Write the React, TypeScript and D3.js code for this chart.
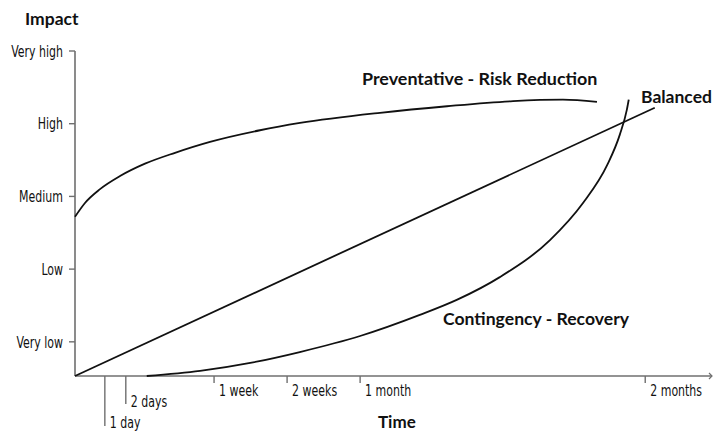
import * as d3 from 'd3';

// Impact levels on the vertical axis
const impactLabels = ['Very low', 'Low', 'Medium', 'High', 'Very high'];
const impactValues = [1, 2, 3, 4, 5];

// Time ticks (relative time units, 0..100)
const timeLabels = ['1 day', '2 days', '1 week', '2 weeks', '1 month', '2 months'];
const timeValues = [4.7, 8.0, 21.9, 33.4, 44.9, 89.8];

// Preventative - Risk Reduction curve
const preventativeTime = [0, 1.57, 3.94, 7.09, 11.02, 15.75, 21.26, 29.13, 35.43, 48.03, 58.58, 68.98, 76.85, 82.2];
const preventativeImpact = [2.72, 2.91, 3.1, 3.28, 3.45, 3.6, 3.75, 3.91, 4.01, 4.15, 4.24, 4.31, 4.33, 4.3];

// Balanced line
const balancedTime = [0, 91.3];
const balancedImpact = [0.53, 4.22];

// Contingency - Recovery curve
const contingencyTime = [11.3, 19.7, 27.6, 35.4, 44.9, 54.3, 60.2, 66.9, 74.8, 80.0, 83.8, 85.8, 86.9, 87.2];
const contingencyImpact = [0.53, 0.6, 0.71, 0.86, 1.08, 1.37, 1.58, 1.89, 2.4, 2.91, 3.43, 3.85, 4.19, 4.33];

const W = 713;
const H = 432;
const axisColor = '#6f6f6f';
const labelFont = "'DejaVu Sans Condensed', 'DejaVu Sans', sans-serif";
const boldFont = "Lato, 'Noto Sans', sans-serif";

// narrow label: the reference uses a very condensed face, so squeeze horizontally
function NarrowText({ x, y, anchor = 'start', dy, children }: any) {
  return (
    <g transform={`translate(${x},${y}) scale(0.74,1)`}>
      <text dy={dy} textAnchor={anchor} fontFamily={labelFont} fontSize={16.5} fill="#111">
        {children}
      </text>
    </g>
  );
}

export default function App() {
  const x = d3.scaleLinear().domain([0, 100]).range([75, 710]);
  const y = d3.scaleLinear().domain([0.53, 5]).range([376, 51]);
  const y0 = y(0.53);

  const smooth = d3
    .line<[number, number]>()
    .x((d) => x(d[0]))
    .y((d) => y(d[1]))
    .curve(d3.curveMonotoneX);
  const straight = d3
    .line<[number, number]>()
    .x((d) => x(d[0]))
    .y((d) => y(d[1]));

  const zip = (a: number[], b: number[]) => a.map((v, i) => [v, b[i]] as [number, number]);

  // first two time ticks are staggered down so labels don't collide
  const tickDrop = [50, 28, 7, 7, 7, 7];
  const labelBase = [52, 31, 20, 20, 20, 20];

  return (
    <svg width={W} height={H} style={{ position: 'absolute', left: 0, top: 0, background: '#fff' }}>
      {/* y axis */}
      <line x1={x(0)} x2={x(0)} y1={y(5)} y2={y0} stroke={axisColor} strokeWidth={1.6} />
      {impactValues.map((v, i) => (
        <g key={v} transform={`translate(${x(0)},${y(v)})`}>
          <line x1={-6} x2={0} stroke={axisColor} strokeWidth={1.4} />
          <NarrowText x={-12} y={0} dy="0.35em" anchor="end">
            {impactLabels[i]}
          </NarrowText>
        </g>
      ))}
      <text x={25} y={25} fontFamily={boldFont} fontWeight={700} fontSize={17.5} fill="#111">
        Impact
      </text>

      {/* x axis */}
      <line x1={x(0)} x2={712} y1={y0} y2={y0} stroke={axisColor} strokeWidth={1.6} />
      <path d={`M${709},${y0 - 3}L${712},${y0}L${709},${y0 + 3}`} fill="none" stroke={axisColor} strokeWidth={1.2} />
      {timeValues.map((v, i) => (
        <g key={v} transform={`translate(${x(v)},${y0})`}>
          <line y1={0} y2={tickDrop[i]} stroke={axisColor} strokeWidth={1.4} />
          <NarrowText x={5} y={labelBase[i]}>
            {timeLabels[i]}
          </NarrowText>
        </g>
      ))}
      <text x={378} y={428} fontFamily={boldFont} fontWeight={700} fontSize={17} fill="#111">
        Time
      </text>

      {/* curves */}
      <path d={smooth(zip(preventativeTime, preventativeImpact)) || ''} fill="none" stroke="#111" strokeWidth={1.8} />
      <path d={straight(zip(balancedTime, balancedImpact)) || ''} fill="none" stroke="#111" strokeWidth={1.8} />
      <path d={smooth(zip(contingencyTime, contingencyImpact)) || ''} fill="none" stroke="#111" strokeWidth={1.8} />

      {/* series labels */}
      <text x={362} y={85} fontFamily={boldFont} fontWeight={700} fontSize={17.9} fill="#111">
        Preventative - Risk Reduction
      </text>
      <text x={641} y={103} fontFamily={boldFont} fontWeight={700} fontSize={17.5} fill="#111">
        Balanced
      </text>
      <text x={443} y={325} fontFamily={boldFont} fontWeight={700} fontSize={17.6} fill="#111">
        Contingency - Recovery
      </text>
    </svg>
  );
}
